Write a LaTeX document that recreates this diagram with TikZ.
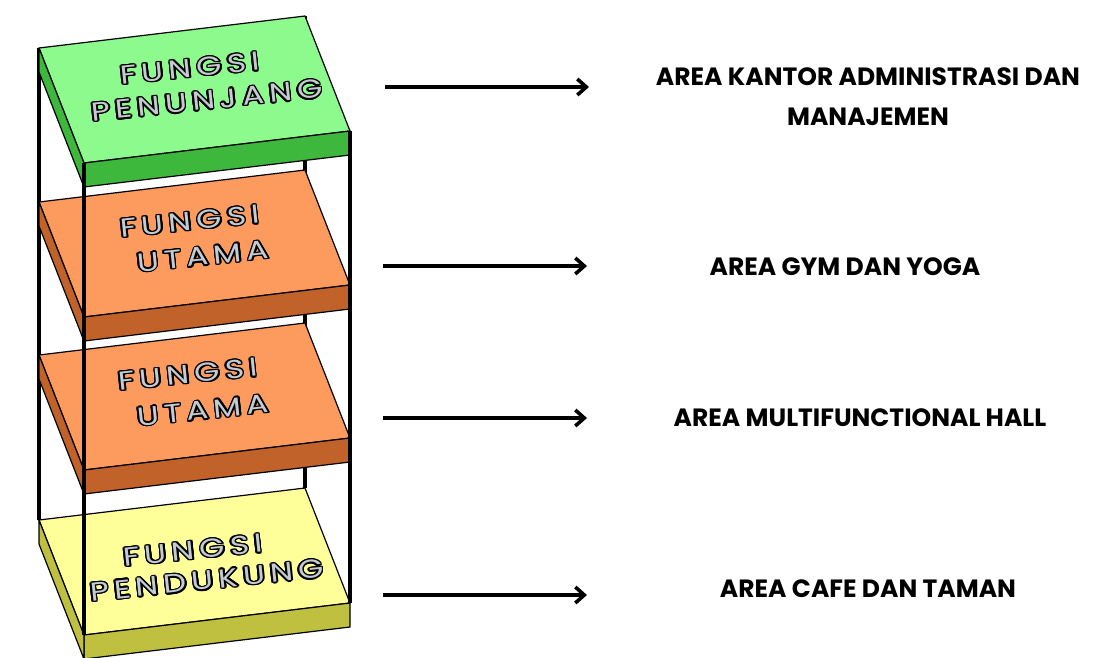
\documentclass[tikz,border=0pt]{standalone}
\usepackage{fontspec}
\setmainfont{Poppins}
\usepackage{xcolor}
\usepackage{contour}
\contourlength{1.3pt}
\usetikzlibrary{arrows.meta}

\definecolor{greentop}{HTML}{8CFA8C}
\definecolor{greenside}{HTML}{3DB83D}
\definecolor{orangetop}{HTML}{FD9A5E}
\definecolor{orangeside}{HTML}{C0622A}
\definecolor{yellowtop}{HTML}{FFFF9A}
\definecolor{yellowside}{HTML}{BFBF40}
\definecolor{lettergray}{HTML}{C4CCD2}

\tikzset{
  face/.style={draw=black, line width=1.2pt, line join=round},
  post/.style={draw=black, line width=3.2pt},
  slabtext/.style={rotate=6, xscale=1.25, inner sep=0pt,
    font=\fontsize{26}{26}\selectfont\addfontfeatures{LetterSpace=16}},
  arealabel/.style={align=center, inner sep=0pt,
    font=\fontsize{25}{40}\selectfont\bfseries},
  pointer/.style={-{Straight Barb[length=9pt,width=16pt,line width=3.6pt]}, line width=3.6pt}
}

\newcommand{\slabword}[1]{\contour{black}{\textcolor{lettergray}{#1}}}

\begin{document}
\begin{tikzpicture}[x=1pt,y=-1pt]
\useasboundingbox (0,0) rectangle (1119,657);
\clip (0,0) rectangle (1119,657);

% back posts
\draw [post] (39,48) -- (39,520);
\draw [post] (305,16) -- (305,488);

% slab 1 - fungsi penunjang
\draw [face, fill=greentop]  (84,163) -- (350,131) -- (305,16) -- (39,48) -- cycle;
\draw [face, fill=greenside] (84,163) -- (350,131) -- (350,155) -- (84,187) -- cycle;
\draw [face, fill=greenside] (39,48) -- (84,163) -- (84,187) -- (39,72) -- cycle;

% slab 2 - fungsi utama
\draw [face, fill=orangetop]  (84,317) -- (350,285) -- (305,170) -- (39,202) -- cycle;
\draw [face, fill=orangeside] (84,317) -- (350,285) -- (350,309) -- (84,341) -- cycle;
\draw [face, fill=orangeside] (39,202) -- (84,317) -- (84,341) -- (39,226) -- cycle;

% slab 3 - fungsi utama
\draw [face, fill=orangetop]  (84,470) -- (350,438) -- (305,323) -- (39,355) -- cycle;
\draw [face, fill=orangeside] (84,470) -- (350,438) -- (350,462) -- (84,494) -- cycle;
\draw [face, fill=orangeside] (39,355) -- (84,470) -- (84,494) -- (39,379) -- cycle;

% slab 4 - fungsi pendukung
\draw [face, fill=yellowtop]  (84,635) -- (350,603) -- (305,488) -- (39,520) -- cycle;
\draw [face, fill=yellowside] (84,635) -- (350,603) -- (350,627) -- (84,659) -- cycle;
\draw [face, fill=yellowside] (39,520) -- (84,635) -- (84,659) -- (39,544) -- cycle;

% front posts
\draw [post] (84,163) -- (84,635);
\draw [post] (350,131) -- (350,603);

% slab labels
\node [slabtext] (s1a) at (190,69) {\slabword{FUNGSI}};
\node [slabtext] (s1b) at (207,101) {\slabword{PENUNJANG}};
\node [slabtext] (s2a) at (190,222) {\slabword{FUNGSI}};
\node [slabtext] (s2b) at (203,257) {\slabword{UTAMA}};
\node [slabtext] (s3a) at (188,375) {\slabword{FUNGSI}};
\node [slabtext] (s3b) at (203,411) {\slabword{UTAMA}};
\node [slabtext] (s4a) at (193,551) {\slabword{FUNGSI}};
\node [slabtext] (s4b) at (207,581) {\slabword{PENDUKUNG}};

% area labels
\node [arealabel] (t1) at (868,97) {AREA KANTOR ADMINISTRASI DAN\\MANAJEMEN};
\node [arealabel] (t2) at (845,267) {AREA GYM DAN YOGA};
\node [arealabel] (t3) at (860,418) {AREA MULTIFUNCTIONAL HALL};
\node [arealabel] (t4) at (868,589) {AREA CAFE DAN TAMAN};

% arrows
\coordinate (a1) at (385,87);
\coordinate (b1) at (589,87);
\coordinate (a2) at (383,266);
\coordinate (b2) at (587,266);
\coordinate (a3) at (383,418);
\coordinate (b3) at (587,418);
\coordinate (a4) at (383,595);
\coordinate (b4) at (587,595);
\draw [pointer] (a1) -- (b1);
\draw [pointer] (a2) -- (b2);
\draw [pointer] (a3) -- (b3);
\draw [pointer] (a4) -- (b4);
\end{tikzpicture}
\end{document}
